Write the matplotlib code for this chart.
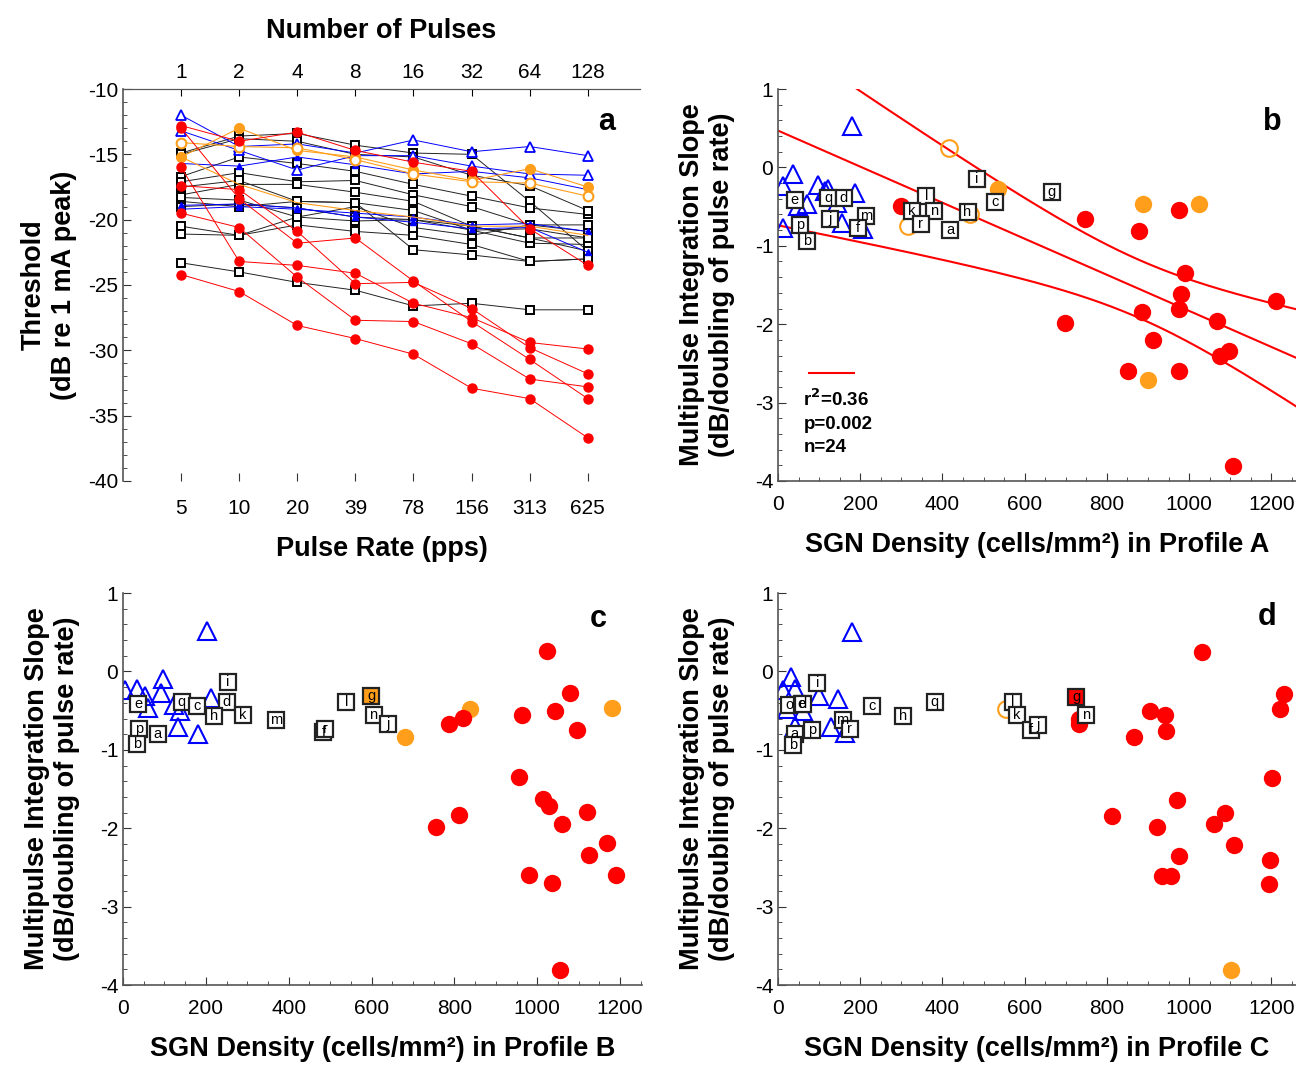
import numpy as np
import matplotlib
matplotlib.use('Agg')
import matplotlib.pyplot as plt
from matplotlib.ticker import MultipleLocator

plt.rcParams['font.family'] = ['Liberation Sans', 'DejaVu Sans']
plt.rcParams['axes.unicode_minus'] = False

RED = '#ff0000'
ORANGE = '#ff9e1b'
BLUE = '#0000ff'

# ---- panel a : threshold vs pulse rate ----
pulse_rate = ['5', '10', '20', '39', '78', '156', '313', '625']
num_pulses = ['1', '2', '4', '8', '16', '32', '64', '128']

red_lines = [
    [-12.8, -14.0, -13.3, -14.7, -15.6, -16.3, -20.7, -23.5],
    [-16.0, -23.2, -23.5, -24.1, -26.4, -27.5, -29.4, -29.9],
    [-24.2, -25.5, -28.1, -29.1, -30.3, -32.9, -33.7, -36.7],
    [-17.4, -17.7, -20.9, -24.9, -24.8, -26.8, -29.8, -31.8],
    [-19.5, -20.6, -24.4, -27.7, -27.8, -29.5, -32.2, -32.8],
    [-13.0, -18.4, -21.8, -21.4, -24.7, -27.8, -30.7, -33.7],
]
blue_open_lines = [
    [-12.0, -14.4, -14.2, -14.9, -13.9, -14.8, -14.4, -15.1],
    [-13.2, -14.7, -16.2, -15.1, -15.1, -15.9, -16.5, -16.6],
]
blue_small_lines = [
    [-15.7, -15.9, -15.2, -15.8, -16.5, -16.3, -16.8, -17.7],
    [-19.2, -19.0, -19.2, -19.5, -19.8, -20.4, -20.3, -20.9],
    [-18.9, -18.8, -19.1, -19.8, -20.2, -20.7, -20.6, -22.5],
]
orange_filled_line = [-15.2, -13.0, -14.7, -15.2, -16.2, -17.0, -16.1, -17.5]
orange_open_line = [-14.1, -14.4, -14.5, -15.4, -16.5, -17.1, -17.2, -18.2]
orange_thin_line = [-15.2, -17.3, -18.7, -19.3, -19.8, -20.5, -20.5, -21.2]
black_lines = [
    [-14.9, -13.6, -13.4, -14.3, -14.9, -15.0, -18.6, -22.4],
    [-16.7, -15.2, -15.7, -16.3, -17.3, -18.2, -19.1, -19.6],
    [-17.1, -16.4, -17.1, -17.0, -18.1, -19.0, -20.4, -20.9],
    [-18.1, -17.3, -17.3, -17.9, -18.6, -20.5, -21.4, -21.4],
    [-18.6, -19.0, -18.6, -18.7, -19.3, -20.8, -21.8, -21.9],
    [-20.5, -21.2, -20.4, -20.9, -21.2, -21.9, -23.2, -23.0],
    [-21.1, -21.2, -19.8, -20.1, -20.0, -20.5, -21.4, -22.4],
    [-23.3, -24.0, -24.8, -25.4, -26.6, -26.4, -26.9, -26.9],
    [-18.3, -18.5, -19.8, -19.0, -20.6, -21.2, -20.4, -20.4],
    [-17.5, -17.0, -18.6, -18.7, -22.3, -22.7, -23.2, -23.0],
    [-19.0, -18.8, -19.1, -19.8, -20.0, -20.8, -20.7, -21.4],
    [-15.0, -13.8, -14.0, -15.0, -15.2, -16.6, -17.4, -19.3],
]

# ---- panel b : profile A ----
b_tri_x = [37, 13, 98, 122, 187, 70, 49, 143, 155, 13, 207, 114, 179]
b_tri_y = [-0.09, -0.24, -0.22, -0.28, -0.32, -0.47, -0.49, -0.45, -0.71, -0.77, -0.79, -0.30, 0.53]
b_sq_lab = ['e', 'q', 'd', 'p', 'b', 'j', 'm', 'f', 'l', 'k', 'n', 'r', 'a', 'h', 'i', 'c', 'g']
b_sq_x = [41, 122, 160, 53, 70, 126, 214, 195, 361, 325, 380, 347, 419, 461, 483, 529, 666]
b_sq_y = [-0.41, -0.39, -0.39, -0.73, -0.94, -0.66, -0.62, -0.77, -0.37, -0.55, -0.55, -0.72, -0.80, -0.57, -0.15, -0.44, -0.31]
b_oopen_x = [416, 317, 466]
b_oopen_y = [0.25, -0.75, -0.60]
b_org_x = [536, 887, 1025, 900]
b_org_y = [-0.28, -0.47, -0.47, -2.71]
b_red_x = [300, 746, 879, 975, 989, 980, 976, 1211, 1069, 697, 886, 912, 1098, 1074, 851, 976, 1106]
b_red_y = [-0.49, -0.66, -0.81, -0.54, -1.35, -1.62, -1.80, -1.71, -1.96, -1.99, -1.84, -2.20, -2.34, -2.40, -2.60, -2.60, -3.81]
fit_intercept = 0.47
fit_slope = -0.0023
band_min = 0.137      # squared half width at centre
band_curv = 1.71e-6
band_centre = 880

# ---- panel c : profile B ----
c_tri_x = [202, 97, 5, 33, 53, 92, 61, 122, 138, 213, 134, 182]
c_tri_y = [0.52, -0.09, -0.24, -0.22, -0.31, -0.28, -0.46, -0.43, -0.50, -0.34, -0.71, -0.80]
c_sq_lab = ['e', 'q', 'c', 'd', 'i', 'h', 'k', 'm', 'p', 'a', 'b', 'f', 'r', 'l', 'n', 'j']
c_sq_x = [37, 142, 178, 250, 253, 220, 289, 370, 39, 84, 35, 484, 488, 539, 605, 639]
c_sq_y = [-0.41, -0.39, -0.44, -0.39, -0.14, -0.57, -0.55, -0.62, -0.73, -0.80, -0.93, -0.77, -0.73, -0.39, -0.56, -0.67]
c_gsq = (599, -0.31)
c_org_x = [681, 838, 1180]
c_org_y = [-0.83, -0.48, -0.47]
c_red_x = [1023, 1080, 1043, 963, 1096, 786, 822, 955, 1014, 1029, 1060, 1120, 810, 755, 1168, 1125, 979, 1035, 1191, 1055]
c_red_y = [0.26, -0.28, -0.50, -0.55, -0.75, -0.67, -0.59, -1.35, -1.63, -1.71, -1.95, -1.79, -1.83, -1.98, -2.19, -2.34, -2.60, -2.70, -2.60, -3.81]

# ---- panel d : profile C ----
d_tri_x = [181, 31, 13, 41, 100, 147, 21, 61, 130, 163, 41]
d_tri_y = [0.51, -0.07, -0.24, -0.22, -0.31, -0.35, -0.48, -0.50, -0.71, -0.79, -0.69]
d_sq_lab = ['o', 'e', 'd', 'i', 'c', 'h', 'q', 'm', 'r', 'p', 'a', 'b', 'l', 'k', 'f', 'j', 'n']
d_sq_x = [27, 58, 60, 96, 228, 305, 381, 157, 175, 82, 41, 37, 572, 581, 616, 632, 750]
d_sq_y = [-0.43, -0.41, -0.41, -0.15, -0.44, -0.57, -0.39, -0.62, -0.73, -0.75, -0.80, -0.94, -0.39, -0.55, -0.75, -0.68, -0.56]
d_gsq = (725, -0.32)
d_oopen_x = [555]
d_oopen_y = [-0.48]
d_org_x = [1103]
d_org_y = [-3.81]
d_red_x = [733, 733, 1031, 1231, 1221, 904, 942, 944, 865, 1202, 970, 1088, 812, 1061, 922, 1108, 976, 1197, 933, 956, 1195]
d_red_y = [-0.60, -0.67, 0.25, -0.29, -0.48, -0.50, -0.55, -0.76, -0.83, -1.36, -1.64, -1.80, -1.84, -1.95, -1.99, -2.21, -2.35, -2.40, -2.61, -2.61, -2.71]

fig = plt.figure(figsize=(12.96, 10.65), dpi=100)

LABFS = 19.5
TICKFS = 15


def style_axes(ax):
    for s in ['top', 'right']:
        ax.spines[s].set_visible(False)
    for s in ['left', 'bottom']:
        ax.spines[s].set_color('#555555')
        ax.spines[s].set_linewidth(1.2)
    ax.tick_params(which='both', direction='in', labelsize=TICKFS, color='#333333')
    ax.tick_params(which='major', length=6)
    ax.tick_params(which='minor', length=3)


# panel a
axa = fig.add_axes([0.0949, 0.5484, 0.399, 0.368])
xs = np.arange(len(pulse_rate))
for ln in black_lines:
    axa.plot(xs, ln, '-', color='#222222', lw=0.7, marker='s', ms=5.5, mfc='white',
             mec='black', mew=1.4)
for ln in blue_small_lines:
    axa.plot(xs, ln, '-', color=BLUE, lw=0.7, marker='^', ms=4, mfc=BLUE, mec=BLUE)
for ln in blue_open_lines:
    axa.plot(xs, ln, '-', color=BLUE, lw=0.7, marker='^', ms=7, mfc='white', mec=BLUE, mew=1.3)
axa.plot(xs, orange_thin_line, '-', color=ORANGE, lw=0.8)
axa.plot(xs, orange_filled_line, '-', color=ORANGE, lw=0.8, marker='o', ms=7, mfc=ORANGE, mec=ORANGE)
axa.plot(xs, orange_open_line, '-', color=ORANGE, lw=0.8, marker='o', ms=7, mfc='white', mec=ORANGE, mew=1.5)
for ln in red_lines:
    axa.plot(xs, ln, '-', color=RED, lw=0.7, marker='o', ms=6.5, mfc=RED, mec=RED)
axa.set_xlim(-1, 7.9)
axa.set_ylim(-40, -10)
axa.set_xticks(xs)
axa.set_xticklabels(pulse_rate)
axa.yaxis.set_major_locator(MultipleLocator(5))
axa.yaxis.set_minor_locator(MultipleLocator(1))
style_axes(axa)
axa.spines['bottom'].set_visible(False)
axa.spines['top'].set_visible(True)
axa.spines['top'].set_color('#555555')
axa.tick_params(axis='x', pad=13)
axa.set_xlabel('Pulse Rate (pps)', fontsize=LABFS, fontweight='bold', labelpad=13)
axa.set_ylabel('Threshold\n(dB re 1 mA peak)', fontsize=LABFS, fontweight='bold', labelpad=8)
top = axa.twiny()
top.set_xlim(axa.get_xlim())
top.set_xticks(xs)
top.set_xticklabels(num_pulses)
top.tick_params(direction='in', labelsize=TICKFS, length=5, pad=5)
for s in ['left', 'right', 'bottom']:
    top.spines[s].set_visible(False)
top.spines['top'].set_color('#555555')
top.set_xlabel('Number of Pulses', fontsize=LABFS, fontweight='bold', labelpad=18)
axa.text(0.935, 0.915, 'a', transform=axa.transAxes, fontsize=22, fontweight='bold',
         ha='center', va='center')


def scatter_panel(ax, tri_x, tri_y, sq_lab, sq_x, sq_y, red_x, red_y, org_x, org_y,
                  oopen_x=None, oopen_y=None, gsq=None, gcol=None):
    ax.plot(tri_x, tri_y, '^', ms=13, mfc='none', mec=BLUE, mew=1.5, ls='none')
    if oopen_x is not None:
        ax.plot(oopen_x, oopen_y, 'o', ms=12, mfc='none', mec=ORANGE, mew=1.5, ls='none')
    ax.plot(org_x, org_y, 'o', ms=12.5, mfc=ORANGE, mec='none', ls='none')
    ax.plot(red_x, red_y, 'o', ms=12.5, mfc=RED, mec='none', ls='none')
    for lab, x, y in zip(sq_lab, sq_x, sq_y):
        ax.plot([x], [y], 's', ms=11, mfc='white', mec='#222222', mew=1.6)
        ax.text(x, y, lab, fontsize=10.5, ha='center', va='center')
    if gsq is not None:
        ax.plot([gsq[0]], [gsq[1]], 's', ms=11, mfc=gcol, mec='#222222', mew=1.6)
        ax.text(gsq[0], gsq[1], 'g', fontsize=10.5, ha='center', va='center')
    ax.set_ylim(-4, 1)
    ax.yaxis.set_major_locator(MultipleLocator(1))
    ax.yaxis.set_minor_locator(MultipleLocator(0.2))
    ax.xaxis.set_major_locator(MultipleLocator(200))
    ax.xaxis.set_minor_locator(MultipleLocator(50))
    style_axes(ax)
    ax.tick_params(axis='x', pad=10)
    ax.set_ylabel('Multipulse Integration Slope\n(dB/doubling of pulse rate)',
                  fontsize=LABFS, fontweight='bold', labelpad=14)


axb = fig.add_axes([0.6003, 0.5484, 0.3997, 0.368])
xx = np.linspace(0, 1260, 200)
yfit = fit_intercept + fit_slope * xx
hw = np.sqrt(band_min + band_curv * (xx - band_centre) ** 2)
for yy in (yfit, yfit + hw, yfit - hw):
    axb.plot(xx, yy, '-', color=RED, lw=1.5)
scatter_panel(axb, b_tri_x, b_tri_y, b_sq_lab, b_sq_x, b_sq_y, b_red_x, b_red_y,
              b_org_x, b_org_y, b_oopen_x, b_oopen_y)
axb.set_xlim(0, 1260)
axb.set_xlabel('SGN Density (cells/mm²) in Profile A', fontsize=LABFS, fontweight='bold', labelpad=13)
axb.plot([75, 185], [-2.62, -2.62], '-', color=RED, lw=1.5)
axb.text(62, -2.82, 'r$^{\\mathbf{2}}$=0.36\np=0.002\nn=24', fontsize=13.5, fontweight='bold',
         ha='left', va='top', linespacing=1.45)
axb.text(0.955, 0.915, 'b', transform=axb.transAxes, fontsize=22, fontweight='bold',
         ha='center', va='center')

axc = fig.add_axes([0.0949, 0.0751, 0.4005, 0.368])
scatter_panel(axc, c_tri_x, c_tri_y, c_sq_lab, c_sq_x, c_sq_y, c_red_x, c_red_y,
              c_org_x, c_org_y, gsq=c_gsq, gcol=ORANGE)
axc.set_xlim(0, 1253)
axc.set_xlabel('SGN Density (cells/mm²) in Profile B', fontsize=LABFS, fontweight='bold', labelpad=13)
axc.text(0.915, 0.935, 'c', transform=axc.transAxes, fontsize=22, fontweight='bold',
         ha='center', va='center')

axd = fig.add_axes([0.6003, 0.0751, 0.3997, 0.368])
scatter_panel(axd, d_tri_x, d_tri_y, d_sq_lab, d_sq_x, d_sq_y, d_red_x, d_red_y,
              d_org_x, d_org_y, d_oopen_x, d_oopen_y, gsq=d_gsq, gcol=RED)
axd.set_xlim(0, 1260)
axd.set_xlabel('SGN Density (cells/mm²) in Profile C', fontsize=LABFS, fontweight='bold', labelpad=13)
axd.text(0.945, 0.94, 'd', transform=axd.transAxes, fontsize=22, fontweight='bold',
         ha='center', va='center')

fig.savefig('out.png', dpi=100)
